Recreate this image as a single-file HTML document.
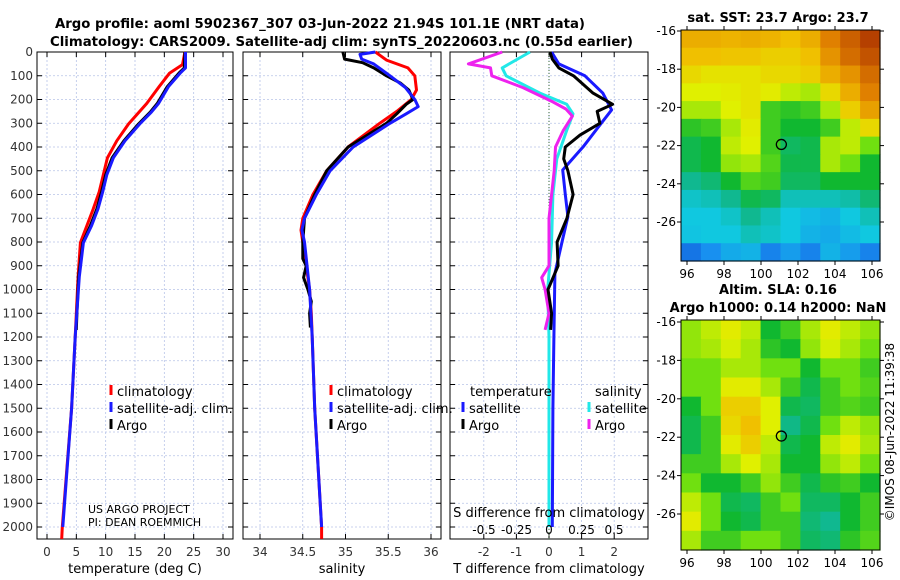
<!DOCTYPE html>
<html><head><meta charset="utf-8">
<style>
body{margin:0;background:#fff;}
svg{display:block;font-family:"DejaVu Sans","Liberation Sans",sans-serif;}
</style></head>
<body>
<svg id="c" width="900" height="580" viewBox="0 0 900 580"></svg>
<script>
// ---------- data ----------
const depthTicks=[0,100,200,300,400,500,600,700,800,900,1000,1100,1200,1300,1400,1500,1600,1700,1800,1900,2000];
const tempTicks=[0,5,10,15,20,25,30];
const salTicks=[34,34.5,35,35.5,36];
const tdTicks=[-2,-1,0,1,2];
const sdTicks=[-0.5,-0.25,0,0.25,0.5];
const sdTickLabels=["-0.5","-0.25","0","0.25","0.5"];

const tClimDepth=[0,53,89,146,217,303,374,446,517,589,660,731,803,946,1200,1500,2000,2050];
const tempClim=[23.5,23.1,20.9,19.1,17.0,13.9,11.9,10.3,9.6,8.9,7.9,6.8,5.7,5.3,4.8,4.2,2.6,2.5];
const tSatDepth=[0,67,89,146,217,253,303,374,446,517,589,660,731,803,946,1200,1500,2000];
const tempSat=[23.6,23.6,22.7,20.7,19.0,17.8,15.8,13.3,11.3,10.2,9.5,8.7,7.6,6.2,5.5,4.8,4.2,2.7];
const tArgoDepth=[0,67,89,146,217,253,303,374,446,517,589,660,731,803,946,1100,1170];
const tempArgo=[23.5,23.4,22.5,20.5,18.8,17.6,15.6,13.1,11.1,10.0,9.3,8.5,7.4,6.1,5.4,5.1,5.0];

const sClimDepth=[0,34,67,100,160,200,250,300,400,500,600,700,750,800,900,1000,1100,1200,1500,2000,2050];
const salClim=[35.35,35.48,35.73,35.81,35.83,35.77,35.6,35.4,35.03,34.78,34.62,34.5,34.48,34.5,34.54,34.58,34.6,34.61,34.64,34.72,34.72];
const sSatDepth=[0,10,30,50,100,150,200,230,260,300,400,500,600,700,750,800,1000,1200,1500,2000];
const salSat=[35.35,35.17,35.19,35.33,35.52,35.7,35.81,35.85,35.71,35.52,35.09,34.82,34.66,34.52,34.49,34.52,34.58,34.61,34.64,34.72];
const sArgoDepth=[0,30,45,67,100,130,160,200,220,260,300,400,500,600,700,800,870,900,950,1000,1050,1100,1160];
const salArgo=[34.97,34.99,35.2,35.33,35.48,35.64,35.74,35.79,35.71,35.6,35.48,35.03,34.78,34.64,34.52,34.5,34.5,34.54,34.51,34.56,34.6,34.58,34.59];

const tdSatDepth=[0,50,100,173,244,300,399,497,600,693,800,932,1200,1500,2000];
const tdSat=[0.08,0.3,1.1,1.65,1.92,1.6,1.05,0.42,0.5,0.58,0.4,0.18,0.15,0.12,0.1];
const tdArgoDepth=[0,30,67,100,173,220,250,300,350,400,450,500,600,700,800,900,1000,1100,1170];
const tdArgo=[0.03,0.1,0.3,0.75,1.35,1.95,1.48,1.56,0.95,0.5,0.45,0.58,0.74,0.55,0.25,0.28,-0.03,0.08,0.05];
const sdSatDepth=[0,67,100,173,220,260,330,450,600,800,1000,1200,1500,2000];
const sdSat=[-0.146,-0.36,-0.33,-0.07,0.136,0.185,0.136,0.06,0.03,0.02,-0.01,0,0,0];
const sdArgoDepth=[0,50,67,100,150,210,240,270,330,400,500,700,900,950,1000,1100,1170];
const sdArgo=[-0.36,-0.62,-0.45,-0.44,-0.2,0.03,0.13,0.18,0.11,0.05,0.04,0.0,0.0,-0.056,-0.03,0.0,-0.03];

const lonTicks=[96,98,100,102,104,106];
const latTicks=[-16,-18,-20,-22,-24,-26];
const sstGrid=[
[0.78,0.78,0.77,0.78,0.77,0.75,0.78,0.85,0.9,0.95],
[0.75,0.75,0.74,0.74,0.72,0.72,0.75,0.82,0.88,0.92],
[0.7,0.68,0.68,0.68,0.7,0.7,0.72,0.78,0.82,0.88],
[0.65,0.65,0.66,0.68,0.66,0.62,0.6,0.7,0.78,0.85],
[0.6,0.6,0.65,0.68,0.5,0.48,0.5,0.6,0.72,0.8],
[0.48,0.5,0.6,0.66,0.5,0.45,0.45,0.5,0.62,0.7],
[0.42,0.45,0.62,0.65,0.5,0.4,0.42,0.6,0.62,0.55],
[0.42,0.45,0.58,0.6,0.52,0.42,0.42,0.6,0.55,0.45],
[0.35,0.38,0.45,0.52,0.5,0.4,0.4,0.45,0.45,0.45],
[0.28,0.3,0.35,0.42,0.4,0.3,0.3,0.3,0.32,0.38],
[0.25,0.25,0.28,0.35,0.3,0.25,0.22,0.2,0.25,0.3],
[0.24,0.25,0.25,0.3,0.28,0.25,0.2,0.18,0.22,0.25],
[0.08,0.12,0.18,0.2,0.1,0.15,0.1,0.2,0.15,0.1]];
const slaGrid=[
[0.58,0.62,0.66,0.62,0.45,0.5,0.6,0.66,0.62,0.58],
[0.58,0.6,0.64,0.6,0.48,0.45,0.58,0.64,0.6,0.55],
[0.55,0.55,0.6,0.6,0.55,0.55,0.45,0.55,0.55,0.5],
[0.55,0.55,0.66,0.66,0.6,0.5,0.42,0.5,0.55,0.52],
[0.45,0.55,0.72,0.72,0.65,0.42,0.4,0.5,0.52,0.5],
[0.42,0.5,0.7,0.75,0.65,0.36,0.42,0.55,0.62,0.58],
[0.42,0.5,0.66,0.72,0.62,0.42,0.45,0.62,0.66,0.6],
[0.5,0.5,0.6,0.65,0.6,0.45,0.45,0.58,0.62,0.55],
[0.55,0.45,0.45,0.5,0.58,0.5,0.42,0.48,0.5,0.45],
[0.62,0.55,0.42,0.4,0.5,0.55,0.4,0.4,0.45,0.5],
[0.66,0.55,0.45,0.42,0.5,0.5,0.38,0.35,0.45,0.5],
[0.6,0.5,0.5,0.55,0.55,0.5,0.4,0.38,0.48,0.52]];
const floatLon=101.1, floatLat=-21.94;

// ---------- helpers ----------
const NS="http://www.w3.org/2000/svg";
const svgRoot=document.getElementById('c');
function el(tag,attrs,parent){const e=document.createElementNS(NS,tag);for(const k in attrs)e.setAttribute(k,attrs[k]);(parent||svgRoot).appendChild(e);return e;}
function txt(s,x,y,size,anchor,weight,parent){const t=el('text',{x:x,y:y,'font-size':size,'text-anchor':anchor||'start','font-weight':weight||'normal',fill:'#000'},parent);t.textContent=s;return t;}

const yTop=52, yBot=539;
const yD=d=>yTop+d*(475/2000);
const panels=[
 {l:37,r:233,x:v=>47+v*(176/30),ticks:tempTicks,name:'temperature-panel',xl:'temperature (deg C)'},
 {l:243,r:441,x:v=>260+(v-34)*85.5,ticks:salTicks,name:'salinity-panel',xl:'salinity'},
 {l:450,r:648,x:v=>549+v*32.6,ticks:tdTicks,name:'difference-panel',xl:'T difference from climatology'}
];
const sx=v=>549+v*130;

panels.forEach((p,i)=>{
  const g=el('g',{});
  
  
  depthTicks.forEach(d=>{el('line',{x1:p.l,x2:p.r,y1:yD(d),y2:yD(d),stroke:'#b8c4e8','stroke-width':0.8,'stroke-dasharray':'2,2'},g);
    el('line',{x1:p.l,x2:p.l+5,y1:yD(d),y2:yD(d),stroke:'#000'},g);el('line',{x1:p.r-5,x2:p.r,y1:yD(d),y2:yD(d),stroke:'#000'},g);});
  p.ticks.forEach(v=>{const x=p.x(v);el('line',{x1:x,x2:x,y1:yTop,y2:yBot,stroke:'#b8c4e8','stroke-width':0.8,'stroke-dasharray':'2,2'},g);
    el('line',{x1:x,x2:x,y1:yBot-5,y2:yBot,stroke:'#000'},g);el('line',{x1:x,x2:x,y1:yTop,y2:yTop+5,stroke:'#000'},g);
    const t=txt(String(v),x,556,12,'middle',null,g);t.setAttribute('fill','#333');});
  el('rect',{x:p.l,y:yTop,width:p.r-p.l,height:yBot-yTop,fill:'none',stroke:'#000','stroke-width':1},g);
  const xl=txt(p.xl,(p.l+p.r)/2,573,13,'middle',null,g);
  
  
});
depthTicks.forEach(d=>{const t=txt(String(d),33,yD(d)+4,12,'end');t.setAttribute('fill','#333');});

function drawLine(xs,ds,xf,color,w,name){
  const pts=xs.map((v,i)=>xf(v).toFixed(1)+','+yD(ds[i]).toFixed(1)).join(' ');
  const pl=el('polyline',{points:pts,fill:'none',stroke:color,'stroke-width':w,'stroke-linejoin':'round'});
  
  
}
el('line',{x1:549,x2:549,y1:yTop,y2:yBot,stroke:'#3a6a3a','stroke-width':1,'stroke-dasharray':'1,2'});
drawLine(tempClim,tClimDepth,panels[0].x,'#f00',3,'temp-climatology-line');
drawLine(tempArgo,tArgoDepth,panels[0].x,'#000',3,'temp-argo-line');
drawLine(tempSat,tSatDepth,panels[0].x,'#1a1aff',3,'temp-satellite-line');
drawLine(salClim,sClimDepth,panels[1].x,'#f00',3,'sal-climatology-line');
drawLine(salArgo,sArgoDepth,panels[1].x,'#000',3,'sal-argo-line');
drawLine(salSat,sSatDepth,panels[1].x,'#1a1aff',3,'sal-satellite-line');
drawLine(sdSat,sdSatDepth,sx,'#22e8e8',3,'sdiff-satellite-line');
drawLine(sdArgo,sdArgoDepth,sx,'#ee22ee',3,'sdiff-argo-line');
drawLine(tdSat,tdSatDepth,panels[2].x,'#1a1aff',3,'tdiff-satellite-line');
drawLine(tdArgo,tdArgoDepth,panels[2].x,'#000',3,'tdiff-argo-line');

txt('S difference from climatology',549,517,13,'middle');
sdTicks.forEach((v,i)=>{txt(sdTickLabels[i],sx(v),534,12,'middle');});

function leg(x,y,color,label,name){
  const g=el('g',{});
  
  
  el('line',{x1:x,x2:x,y1:y-11,y2:y-1,stroke:color,'stroke-width':3},g);
  txt(label,x+6,y,13,'start',null,g);
}
leg(111,396,'#f00','climatology','legend-climatology');
leg(111,413,'#1a1aff','satellite-adj. clim.','legend-satellite-adj');
leg(111,430,'#000','Argo','legend-argo');
leg(331,396,'#f00','climatology','legend-climatology-2');
leg(331,413,'#1a1aff','satellite-adj. clim.','legend-satellite-adj-2');
leg(331,430,'#000','Argo','legend-argo-2');
txt('temperature',470,396,13);
txt('salinity',595,396,13);
leg(463,413,'#1a1aff','satellite','legend-t-satellite');
leg(463,430,'#000','Argo','legend-t-argo');
leg(589,413,'#22e8e8','satellite','legend-s-satellite');
leg(589,430,'#ee22ee','Argo','legend-s-argo');
txt('US ARGO PROJECT',88,513,11);
txt('PI: DEAN ROEMMICH',88,526,11);

const t1=txt('Argo profile: aoml 5902367_307 03-Jun-2022 21.94S 101.1E (NRT data)',55,28,13,'start','bold');
t1.setAttribute('textLength','530');t1.setAttribute('lengthAdjust','spacingAndGlyphs');

const t2=txt('Climatology: CARS2009. Satellite-adj clim: synTS_20220603.nc (0.55d earlier)',50,46,13,'start','bold');
t2.setAttribute('textLength','583');t2.setAttribute('lengthAdjust','spacingAndGlyphs');


const stops=[[0,[16,64,208]],[0.12,[24,144,240]],[0.25,[16,200,224]],[0.35,[16,184,144]],[0.45,[16,184,48]],[0.55,[112,224,16]],[0.65,[224,240,0]],[0.75,[240,192,0]],[0.85,[224,128,0]],[1,[160,32,0]]];
function cmap(v){for(let i=1;i<stops.length;i++){if(v<=stops[i][0]){const a=stops[i-1],b=stops[i],f=(v-a[0])/(b[0]-a[0]);return 'rgb('+a[1].map((c,k)=>Math.round(c+(b[1][k]-c)*f)).join(',')+')';}}return 'rgb(160,32,0)';}

function drawMap(grid,L,T,R,B,latTop,latBot,name){
  const g=el('g',{});
  
  
  const rows=grid.length,cols=grid[0].length,cw=(R-L)/cols,ch=(B-T)/rows;
  grid.forEach((row,r)=>row.forEach((v,c)=>{el('rect',{x:L+c*cw,y:T+r*ch,width:cw+0.6,height:ch+0.6,fill:cmap(v)},g);}));
  el('rect',{x:L,y:T,width:R-L,height:B-T,fill:'none',stroke:'#000'},g);
  const lx=lon=>687+(lon-96)*18.5;
  const ly=lat=>latTop+(-16-lat)*(latBot-latTop)/10;
  lonTicks.forEach(v=>{el('line',{x1:lx(v),x2:lx(v),y1:B,y2:B+4,stroke:'#000'},g);el('line',{x1:lx(v),x2:lx(v),y1:T-4,y2:T,stroke:'#000'},g);txt(String(v),lx(v),B+17,12,'middle',null,g);});
  latTicks.forEach(v=>{el('line',{x1:L-4,x2:L,y1:ly(v),y2:ly(v),stroke:'#000'},g);el('line',{x1:R,x2:R+4,y1:ly(v),y2:ly(v),stroke:'#000'},g);txt(String(v),L-5,ly(v)+4,12,'end',null,g);});
  const c=el('circle',{cx:lx(floatLon),cy:ly(floatLat),r:5,fill:'none',stroke:'#000','stroke-width':1.3},g);
  
  
}
drawMap(sstGrid,681,30,880,261,31,222,'sst-map');
drawMap(slaGrid,681,320,880,550,322,514,'sla-map');
txt('sat. SST: 23.7 Argo: 23.7',778,22,13,'middle','bold');
txt('Altim. SLA: 0.16',778,294,13,'middle','bold');
txt('Argo h1000: 0.14 h2000: NaN',778,312,13,'middle','bold');
const cp=txt('©IMOS 08-Jun-2022 11:39:38',0,0,12,'middle');
cp.setAttribute('transform','translate(894,432) rotate(-90)');
</script>
</body></html>
